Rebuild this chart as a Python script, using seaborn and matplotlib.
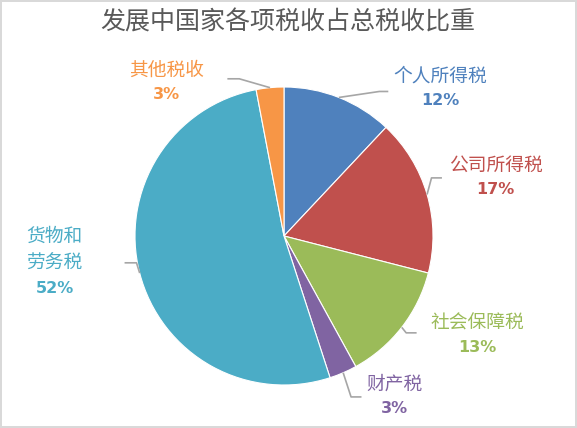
import numpy as np
import seaborn as sns
import matplotlib.pyplot as plt

# data
categories = ['个人所得税', '公司所得税', '社会保障税', '财产税', '货物和\n劳务税', '其他税收']
shares = [12, 17, 13, 3, 52, 3]
colors = ['#4F81BD', '#C0504D', '#9BBB59', '#8064A2', '#4BACC6', '#F79646']

# label placement (data units, pie radius = 1); y is the line between name and percent
label_pos = [(1.05, 1.00), (1.42, 0.40), (1.30, -0.66), (0.74, -1.07), (-1.54, -0.26), (-0.79, 1.04)]
elbows = [(0.64, 0.97, 0.70), (0.99, 0.39, 1.06), (0.82, -0.65, 0.89),
          (0.45, -1.08, 0.52), (-0.99, -0.18, -1.07), (-0.30, 1.055, -0.38)]

sns.set_theme(style='white')
plt.rcParams['font.family'] = ['Noto Sans CJK SC', 'DejaVu Sans']

fig = plt.figure(figsize=(5.77, 4.28), dpi=100)
fig.patch.set_edgecolor('#D9D9D9')
fig.patch.set_linewidth(1.5)
ax = fig.add_axes([0, 0, 1, 1])

wedges, _ = ax.pie(shares, colors=colors, startangle=90, counterclock=False,
                   wedgeprops=dict(edgecolor='white', linewidth=0.8))
ax.set_xlim(-284 / 149, (577 - 284) / 149)
ax.set_ylim((236 - 428) / 149, 236 / 149)
ax.set_aspect('auto')
ax.axis('off')

for w, name, val, col, (lx, ly), (ex, ey, hx) in zip(wedges, categories, shares, colors, label_pos, elbows):
    theta = np.deg2rad((w.theta1 + w.theta2) / 2)
    px, py = np.cos(theta), np.sin(theta)
    ax.plot([px, ex, hx], [py, ey, ey], color='#A6A6A6', lw=1.2, solid_capstyle='butt')
    ax.text(lx, ly + 0.005, name, color=col, fontsize=13.5,
            ha='center', va='bottom', linespacing=1.4)
    ax.text(lx, ly - 0.04, f'{val}%', color=col, fontsize=11.5,
            fontweight='bold', ha='center', va='top', family=['DejaVu Sans'])

fig.text(288 / 577, 1 - 23 / 428, '发展中国家各项税收占总税收比重', ha='center', va='center',
         fontsize=18, color='#595959')

fig.savefig('out.png', dpi=100)
